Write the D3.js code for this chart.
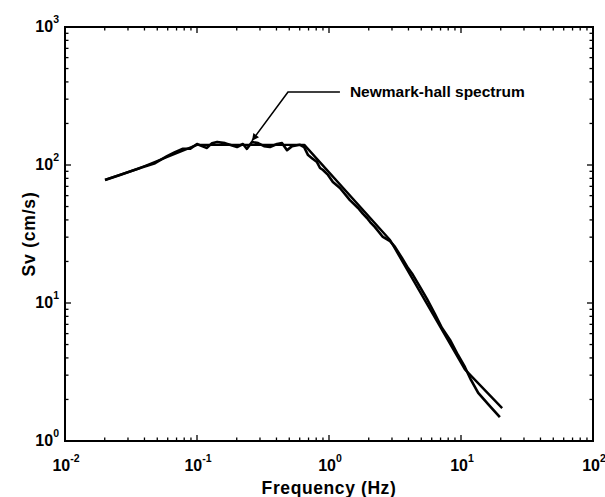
<!DOCTYPE html>
<html>
<head>
<meta charset="utf-8">
<script src="https://cdn.jsdelivr.net/npm/d3@7"></script>
<style>
  body { margin: 0; background: #fff; }
  text { font-family: "Liberation Sans", Arial, sans-serif; font-weight: bold; fill: #000; }
</style>
</head>
<body>
<script>
// chart size and plot box
const width = 605;
const height = 497;
const margin = {left: 65, top: 27, right: 12, bottom: 56};

// response spectrum (jagged): [frequency Hz, Sv cm/s]
const responseFreq = [0.0201, 0.0261, 0.037, 0.0481, 0.0593, 0.0681, 0.0783, 0.0885, 0.1, 0.109,
  0.119, 0.130, 0.142, 0.163, 0.201, 0.223, 0.239, 0.261, 0.290, 0.322,
  0.357, 0.404, 0.441, 0.481, 0.525, 0.603, 0.647, 0.694, 0.743, 0.811,
  0.855, 0.901, 0.983, 1.07, 1.21, 1.44, 1.66, 1.81, 1.94, 2.05,
  2.23, 2.56, 2.90, 3.16, 3.57, 3.97, 4.32, 4.89, 5.52, 6.35,
  7.18, 8.26, 9.49, 10.7, 11.9, 13.5, 16.3, 19.7];
const responseSv = [77.9, 84.7, 95.1, 103, 116, 124, 131, 131, 142, 137,
  133, 144, 147, 144, 135, 142, 131, 147, 144, 137,
  135, 142, 144, 128, 137, 140, 135, 118, 112, 105,
  95.1, 92, 84.7, 75.3, 68.1, 55.7, 48.8, 44.2, 41.3, 38.6,
  35.5, 30.1, 28.1, 25.5, 21.2, 17.9, 16.0, 13.1, 10.7, 8.32,
  6.59, 5.40, 4.20, 3.44, 2.77, 2.23, 1.82, 1.49];

// Newmark-Hall design spectrum corners
const nhFreq = [0.0201, 0.037, 0.1, 0.65, 2.9, 10.7, 20.5];
const nhSv = [77.9, 95.1, 140, 140, 28.6, 3.3, 1.73];

const xDomain = [0.01, 100];
const yDomain = [1, 1000];
const xLabelExp = ['-2', '-1', '0', '1', '2'];
const yLabelExp = ['0', '1', '2', '3'];

const svg = d3.select('body')
    .append('svg')
    .attr('width', width)
    .attr('height', height);

const x = d3.scaleLog().domain(xDomain).range([margin.left, width - margin.right]);
const y = d3.scaleLog().domain(yDomain).range([height - margin.bottom, margin.top]);

const x0 = x.range()[0], x1 = x.range()[1];
const y0 = y.range()[0], y1 = y.range()[1];

// ticks, inward on all four sides
const ticksG = svg.append('g').attr('stroke', '#000').attr('stroke-width', 1.3);
x.ticks().forEach(function(t) {
  var major = Math.abs(Math.log10(t) - Math.round(Math.log10(t))) < 1e-9;
  var len = major ? 6 : 3.5;
  ticksG.append('line').attr('x1', x(t)).attr('x2', x(t)).attr('y1', y0).attr('y2', y0 - len);
  ticksG.append('line').attr('x1', x(t)).attr('x2', x(t)).attr('y1', y1).attr('y2', y1 + len);
});
y.ticks().forEach(function(t) {
  var major = Math.abs(Math.log10(t) - Math.round(Math.log10(t))) < 1e-9;
  var len = major ? 6 : 3.5;
  ticksG.append('line').attr('y1', y(t)).attr('y2', y(t)).attr('x1', x0).attr('x2', x0 + len);
  ticksG.append('line').attr('y1', y(t)).attr('y2', y(t)).attr('x1', x1).attr('x2', x1 - len);
});

// box
svg.append('rect')
    .attr('x', x0).attr('y', y1)
    .attr('width', x1 - x0).attr('height', y0 - y1)
    .attr('fill', 'none').attr('stroke', '#000').attr('stroke-width', 2);

// tick labels
xLabelExp.forEach(function(e) {
  var t = svg.append('text')
      .attr('x', x(Math.pow(10, +e)) + 1)
      .attr('y', y0 + 30)
      .attr('text-anchor', 'middle')
      .attr('font-size', 16);
  t.append('tspan').text('10');
  t.append('tspan').attr('dy', -9).attr('font-size', 10.5).text(e);
});
yLabelExp.forEach(function(e) {
  var t = svg.append('text')
      .attr('x', x0 - 6)
      .attr('y', y(Math.pow(10, +e)) + 5)
      .attr('text-anchor', 'end')
      .attr('font-size', 16);
  t.append('tspan').text('10');
  t.append('tspan').attr('dy', -9).attr('font-size', 10.5).text(e);
});

// axis titles
svg.append('text')
    .attr('x', (x0 + x1) / 2)
    .attr('y', height - 3)
    .attr('text-anchor', 'middle')
    .attr('font-size', 17.5)
    .attr('letter-spacing', 0.6)
    .text('Frequency (Hz)');
svg.append('text')
    .attr('transform', 'translate(35,' + ((y0 + y1) / 2) + ') rotate(-90)')
    .attr('text-anchor', 'middle')
    .attr('font-size', 17.5)
    .attr('letter-spacing', 0.8)
    .text('Sv (cm/s)');

// curves
const line = d3.line()
    .x(d => x(d[0]))
    .y(d => y(d[1]));

const response = d3.zip(responseFreq, responseSv);
const newmark = d3.zip(nhFreq, nhSv);

svg.append('path')
    .datum(newmark)
    .attr('d', line)
    .attr('fill', 'none')
    .attr('stroke', '#000')
    .attr('stroke-width', 2.4)
    .attr('stroke-linejoin', 'round');

svg.append('path')
    .datum(response)
    .attr('d', line)
    .attr('fill', 'none')
    .attr('stroke', '#000')
    .attr('stroke-width', 2.6)
    .attr('stroke-linejoin', 'round');

// annotation with leader
const tip = [x(0.261), y(150)];
const knee = [x(0.489), y(338)];
const lineEnd = [x(1.21), y(338)];
svg.append('polyline')
    .attr('points', [lineEnd, knee, tip].map(p => p.join(',')).join(' '))
    .attr('fill', 'none')
    .attr('stroke', '#000')
    .attr('stroke-width', 1.6);
// small arrow head at tip
var ang = Math.atan2(tip[1] - knee[1], tip[0] - knee[0]);
var ah = 7, aw = 3.5;
var bx = tip[0] - ah * Math.cos(ang), by = tip[1] - ah * Math.sin(ang);
svg.append('polygon')
    .attr('points', [
      tip,
      [bx + aw * Math.sin(ang), by - aw * Math.cos(ang)],
      [bx - aw * Math.sin(ang), by + aw * Math.cos(ang)]
    ].map(p => p.join(',')).join(' '))
    .attr('fill', '#000');

svg.append('text')
    .attr('x', lineEnd[0] + 10)
    .attr('y', lineEnd[1] + 5)
    .attr('font-size', 15.5)
    .text('Newmark-hall spectrum');
</script>
</body>
</html>
